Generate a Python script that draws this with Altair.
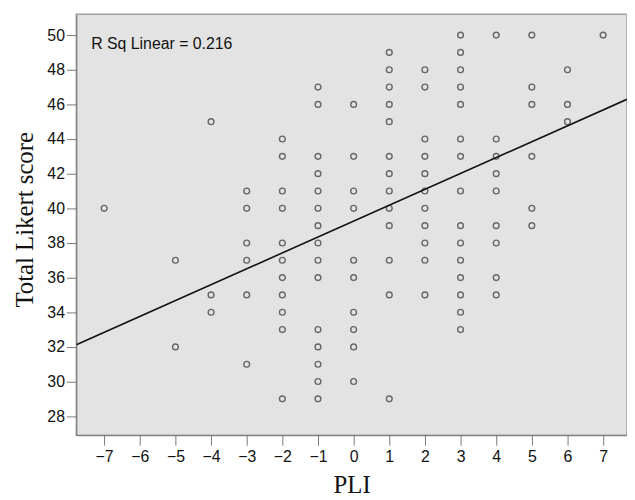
import altair as alt
import pandas as pd

# PLI value for each column of points, and the Likert scores seen in that column
pli_m7 = [40]
pli_m5 = [37, 32]
pli_m4 = [45, 35, 34]
pli_m3 = [41, 40, 38, 37, 35, 31]
pli_m2 = [44, 43, 41, 40, 38, 37, 36, 35, 34, 33, 29]
pli_m1 = [47, 46, 43, 42, 41, 40, 39, 38, 37, 36, 33, 32, 31, 30, 29]
pli_0 = [46, 43, 41, 40, 37, 36, 34, 33, 32, 30]
pli_1 = [49, 48, 47, 46, 45, 43, 42, 41, 40, 39, 37, 35, 29]
pli_2 = [48, 47, 44, 43, 42, 41, 40, 39, 38, 37, 35]
pli_3 = [50, 49, 48, 47, 46, 44, 43, 41, 39, 38, 37, 36, 35, 34, 33]
pli_4 = [50, 44, 43, 42, 41, 39, 38, 36, 35]
pli_5 = [50, 47, 46, 43, 40, 39]
pli_6 = [48, 46, 45]
pli_7 = [50]

columns = {-7: pli_m7, -5: pli_m5, -4: pli_m4, -3: pli_m3, -2: pli_m2, -1: pli_m1,
           0: pli_0, 1: pli_1, 2: pli_2, 3: pli_3, 4: pli_4, 5: pli_5, 6: pli_6, 7: pli_7}

# fitted line
fit_intercept = 39.26
fit_slope = 0.917
r_sq_label = "R Sq Linear = 0.216"

x_ticks = list(range(-7, 8))
y_ticks = list(range(28, 51, 2))
x_domain = [-7.78, 7.67]
y_domain = [26.9, 51.2]

rows = [{"PLI": k, "Likert": v} for k, vals in columns.items() for v in vals]
df = pd.DataFrame(rows)
line_df = pd.DataFrame({"PLI": x_domain})

xscale = alt.Scale(domain=x_domain, nice=False, zero=False)
yscale = alt.Scale(domain=y_domain, nice=False, zero=False)

x_axis = alt.Axis(values=x_ticks, tickCount=40, format="d", tickSize=10, tickColor="#777",
                  domainColor="#777", labelFontSize=16, labelFont="Liberation Sans",
                  labelColor="#111", labelPadding=4, labelOverlap=False, grid=False,
                  title="PLI", titleFont="Liberation Serif", titleFontSize=25,
                  titleFontWeight="normal", titleColor="#111", titleBaseline="alphabetic",
                  titleAlign="center", titleX=278, titleY=58)
y_axis = alt.Axis(values=y_ticks, tickCount=40, format="d", tickSize=10, tickColor="#777",
                  domainColor="#777", labelFontSize=16, labelFont="Liberation Sans",
                  labelColor="#111", labelPadding=2, labelOverlap=False, grid=False,
                  title="Total Likert score", titleFont="Liberation Serif", titleFontSize=25,
                  titleFontWeight="normal", titleColor="#111", titleAngle=-90,
                  titleBaseline="alphabetic", titleAlign="center", titleX=-44, titleY=207)

points = alt.Chart(df).mark_point(shape="circle", filled=False, color="#666666",
                                  strokeWidth=1.4, size=34, opacity=1).encode(
    x=alt.X("PLI:Q", scale=xscale, axis=x_axis),
    y=alt.Y("Likert:Q", scale=yscale, axis=y_axis),
)

fit = alt.Chart(line_df).transform_calculate(
    Likert=f"{fit_intercept} + {fit_slope} * datum.PLI"
).mark_line(color="#111", strokeWidth=1.6, clip=True).encode(
    x=alt.X("PLI:Q", scale=xscale),
    y=alt.Y("Likert:Q", scale=yscale),
)

label = alt.Chart(pd.DataFrame({"t": [r_sq_label]})).mark_text(
    align="left", baseline="alphabetic", font="Liberation Sans", fontSize=16, color="#111"
).encode(x=alt.value(15), y=alt.value(35), text="t:N")

chart = (points + fit + label).properties(
    width=556, height=425,
    autosize=alt.AutoSizeParams(type="none"),
    padding={"left": 69, "top": 4, "right": 0, "bottom": 60},
).configure_view(fill="#e3e3e3", stroke="#a0a0a0", strokeWidth=1.5)

chart.save("out.html", embed_options={"renderer": "svg", "actions": False})
